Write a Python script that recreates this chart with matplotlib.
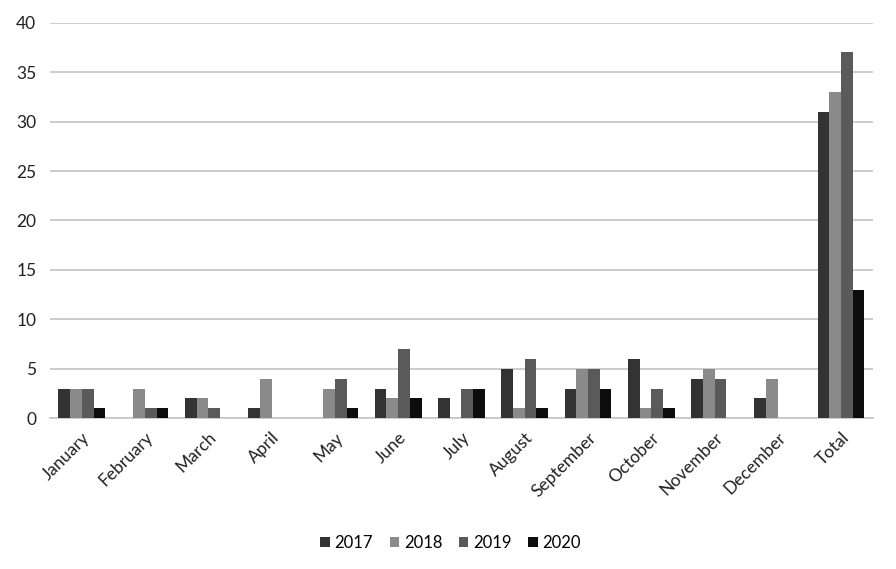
import matplotlib.pyplot as plt
import numpy as np

months = ['January', 'February', 'March', 'April', 'May', 'June', 'July',
          'August', 'September', 'October', 'November', 'December', 'Total']
years = ['2017', '2018', '2019', '2020']
v2017 = [3, 0, 2, 1, 0, 3, 2, 5, 3, 6, 4, 2, 31]
v2018 = [3, 3, 2, 4, 3, 2, 0, 1, 5, 1, 5, 4, 33]
v2019 = [3, 1, 1, 0, 4, 7, 3, 6, 5, 3, 4, 0, 37]
v2020 = [1, 1, 0, 0, 1, 2, 3, 1, 3, 1, 0, 0, 13]
colors = ['#333333', '#8a8a8a', '#5a5a5a', '#0d0d0d']

plt.rcParams['font.family'] = ['Lato', 'DejaVu Sans']

fig = plt.figure(figsize=(8.96, 5.69), dpi=100)
ax = fig.add_axes([0.056, 0.265, 0.918, 0.695])

x = np.arange(len(months))
w = 0.185
for i, (vals, c, lab) in enumerate(zip([v2017, v2018, v2019, v2020], colors, years)):
    ax.bar(x + (i - 1.5) * w, vals, w, color=c, label=lab, zorder=3)

ax.set_xlim(-0.5, len(months) - 0.5)
ax.set_ylim(0, 40)
ax.set_yticks(range(0, 41, 5))
ax.yaxis.grid(True, color='#c8c8c8', linewidth=1.3, zorder=0)
for s in ['top', 'right', 'left']:
    ax.spines[s].set_visible(False)
ax.spines['bottom'].set_color('#c8c8c8')
ax.spines['bottom'].set_linewidth(1.3)
ax.tick_params(length=0, labelsize=12.5, colors='#222222')
ax.tick_params(axis='x', pad=8)
ax.tick_params(axis='y', pad=10)
ax.set_xticks(x)
ax.set_xticklabels(months, rotation=45, ha='right', rotation_mode='anchor')

ax.legend(loc='center', bbox_to_anchor=(0.487, -0.315), ncol=4, frameon=False,
          fontsize=12, handlelength=0.55, handleheight=0.55, handletextpad=0.3,
          columnspacing=1.0)

fig.savefig('out.png', dpi=100)
